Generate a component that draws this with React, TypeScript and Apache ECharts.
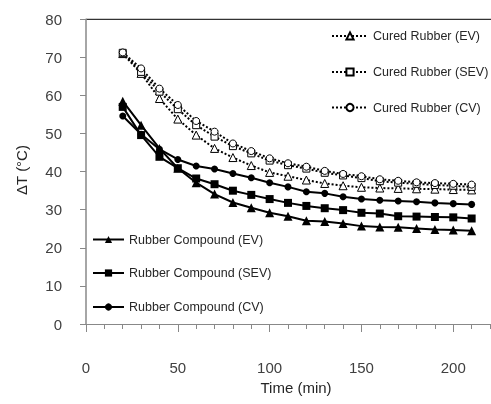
import React, { useEffect, useRef } from "react";
import * as echarts from "echarts";

const times = [20, 30, 40, 50, 60, 70, 80, 90, 100, 110, 120, 130, 140, 150, 160, 170, 180, 190, 200, 210];

const curedEV = [71.0, 65.8, 59.2, 53.8, 49.6, 46.1, 43.7, 41.6, 39.8, 38.8, 37.8, 36.9, 36.3, 35.9, 35.7, 35.6, 35.5, 35.4, 35.3, 35.2];
const curedSEV = [71.2, 66.2, 61.0, 56.4, 52.2, 49.2, 46.7, 44.8, 42.9, 41.7, 40.8, 39.7, 39.0, 38.3, 37.5, 37.1, 36.8, 36.5, 36.3, 36.0];
const curedCV = [71.3, 67.1, 61.8, 57.5, 53.3, 50.5, 47.4, 45.4, 43.5, 42.2, 41.3, 40.2, 39.4, 38.8, 38.0, 37.6, 37.2, 37.0, 36.8, 36.6];

const compEV = [58.5, 52.2, 46.1, 40.9, 37.1, 34.1, 31.9, 30.5, 29.2, 28.3, 27.1, 26.9, 26.4, 25.7, 25.5, 25.4, 25.1, 24.8, 24.7, 24.5];
const compSEV = [57.0, 49.6, 43.9, 40.9, 38.2, 36.7, 35.0, 33.9, 32.8, 31.8, 31.0, 30.4, 29.9, 29.2, 29.0, 28.3, 28.2, 28.1, 28.0, 27.7];
const compCV = [54.6, 49.8, 45.9, 43.2, 41.5, 40.7, 39.5, 38.4, 37.1, 36.0, 34.7, 34.3, 33.4, 32.8, 32.5, 32.3, 32.1, 31.8, 31.6, 31.4];

const xLabels = [0, 50, 100, 150, 200];

const seriesNames = [
  "Cured Rubber (EV)",
  "Cured Rubber (SEV)",
  "Cured Rubber (CV)",
  "Rubber Compound (EV)",
  "Rubber Compound (SEV)",
  "Rubber Compound (CV)",
];

const FONT = "'Liberation Sans', Arial, sans-serif";

function pairs(ys: number[]) {
  return times.map((t, i) => [t, ys[i]]);
}

export default function App() {
  const ref = useRef<HTMLDivElement>(null);
  useEffect(() => {
    const chart = echarts.init(ref.current!, null, { renderer: "svg" });

    const cured = (name: string, data: number[], symbol: string, size: number) => ({
      name,
      type: "line",
      data: pairs(data),
      symbol,
      symbolSize: size,
      lineStyle: { color: "#000", width: 2, type: "dotted" },
      itemStyle: { color: "#fff", borderColor: "#000", borderWidth: 1 },
      z: 3,
    });
    const comp = (name: string, data: number[], symbol: string, size: number) => ({
      name,
      type: "line",
      data: pairs(data),
      symbol,
      symbolSize: size,
      lineStyle: { color: "#000", width: 2, type: "solid" },
      itemStyle: { color: "#000", borderColor: "#000", borderWidth: 0 },
      z: 4,
    });

    const legendTops = [29.5, 65.5, 101, 233, 266.5, 300.5];
    const legendLefts = [331, 331, 331, 92, 92, 92];
    const legendWidths = [36, 36, 36, 31, 31, 31];

    const option: any = {
      animation: false,
      textStyle: { fontFamily: FONT },
      grid: {
        left: 86,
        right: 1,
        top: 19.3,
        bottom: 80,
        containLabel: false,
        outerBoundsMode: "none",
      },
      legend: seriesNames.map((n, i) => ({
        data: [n],
        left: legendLefts[i],
        top: legendTops[i],
        orient: "vertical",
        padding: 0,
        itemWidth: legendWidths[i],
        itemHeight: 9,
        selectedMode: false,
        textStyle: { fontFamily: FONT, fontSize: 12.5, color: "#262626" },
      })),
      xAxis: [
        {
          type: "value",
          min: 0,
          max: 220,
          interval: 10,
          axisLine: { show: true, lineStyle: { color: "#888", width: 1 } },
          axisTick: { show: true, length: 5, lineStyle: { color: "#888" } },
          axisLabel: {
            customValues: xLabels,
            margin: 36,
            fontSize: 15,
            color: "#404040",
            fontFamily: FONT,
          },
          splitLine: { show: false },
        },
        {
          type: "value",
          min: 0,
          max: 220,
          position: "bottom",
          axisLine: { show: false },
          axisTick: { show: true, length: 8, customValues: xLabels, lineStyle: { color: "#888" } },
          axisLabel: { show: false },
          splitLine: { show: false },
        },
      ],
      yAxis: {
        type: "value",
        min: 0,
        max: 80,
        interval: 10,
        axisLine: { show: true, lineStyle: { color: "#888", width: 1.5 } },
        axisTick: { show: true, length: 6, lineStyle: { color: "#888" } },
        axisLabel: { margin: 24, fontSize: 15, color: "#404040", fontFamily: FONT },
        splitLine: { show: false },
      },
      graphic: [
        {
          type: "line",
          shape: { x1: 86, y1: 19.3, x2: 491, y2: 19.3 },
          style: { stroke: "#000", lineWidth: 1 },
          silent: true,
        },
        {
          type: "text",
          x: 21,
          y: 170,
          rotation: Math.PI / 2,
          style: {
            text: "ΔT (°C)",
            fontSize: 15,
            fontFamily: FONT,
            fill: "#262626",
            align: "center",
            verticalAlign: "middle",
          },
        },
        {
          type: "text",
          x: 296,
          y: 387,
          style: {
            text: "Time (min)",
            fontSize: 15,
            fontFamily: FONT,
            fill: "#262626",
            align: "center",
            verticalAlign: "middle",
          },
        },
      ],
      series: [
        cured(seriesNames[0], curedEV, "triangle", 8),
        cured(seriesNames[1], curedSEV, "rect", 7),
        cured(seriesNames[2], curedCV, "circle", 7),
        comp(seriesNames[3], compEV, "triangle", 9),
        comp(seriesNames[4], compSEV, "rect", 8),
        comp(seriesNames[5], compCV, "circle", 7),
      ],
    };

    chart.setOption(option);
    return () => chart.dispose();
  }, []);

  return (
    <div
      ref={ref}
      style={{ position: "fixed", left: 0, top: 0, width: 491, height: 404 }}
    />
  );
}
